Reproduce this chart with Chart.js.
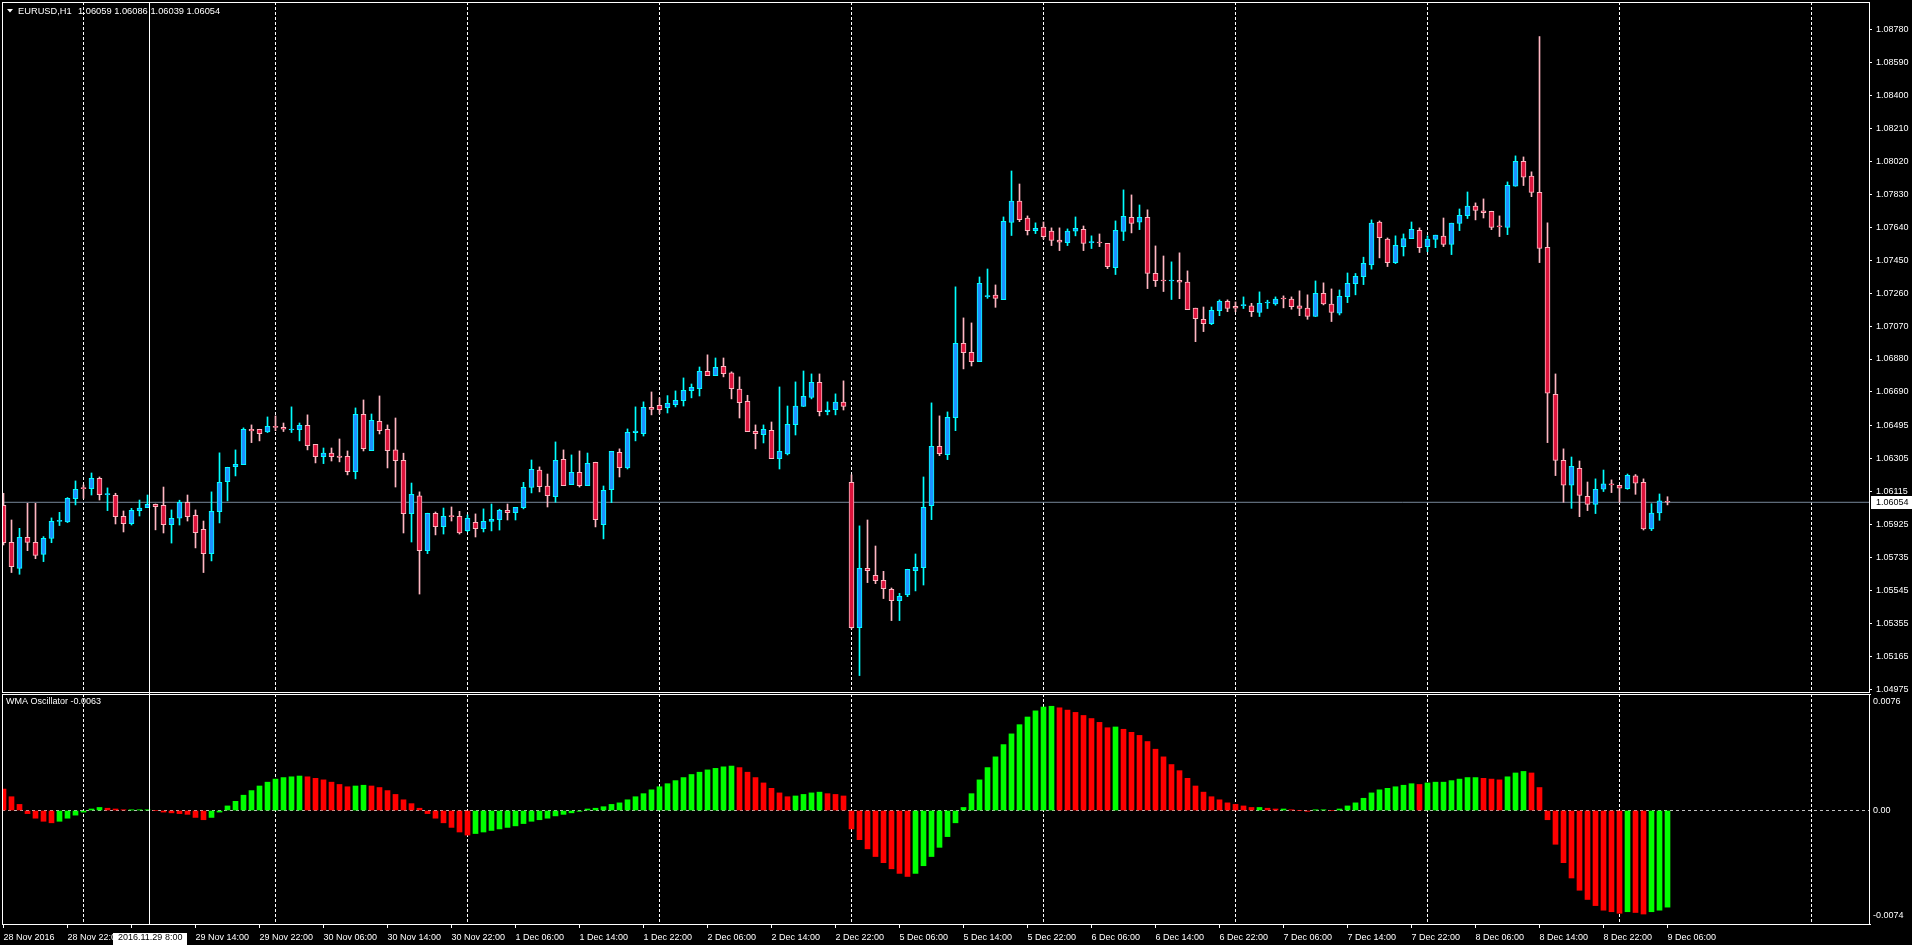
<!DOCTYPE html>
<html><head><meta charset="utf-8">
<script src="https://cdn.jsdelivr.net/npm/chart.js@4.4.0/dist/chart.umd.min.js"></script>
<style>
html,body{margin:0;padding:0;background:#000;width:1912px;height:945px;overflow:hidden}
canvas{position:absolute;left:0}
#main{top:0}
#osc{top:694px}
</style></head><body>
<canvas id="main" width="1912" height="694"></canvas>
<canvas id="osc" width="1912" height="251"></canvas>
<script>
const symbol = 'EURUSD,H1';
const oscName = 'WMA Oscillator';
const bid = 1.06054;
const opens = [
1.06037,1.05823,1.05673,1.05852,1.05823,1.05754,1.05845,1.05943,1.05941,1.06075,
1.06137,1.06133,1.06192,1.06098,1.06094,1.05973,1.05931,1.06006,1.06023,1.06042,
1.06037,1.05925,1.05962,1.06054,1.05979,1.05898,1.05758,1.06000,1.06173,1.06260,
1.06271,1.06475,1.06475,1.06460,1.06492,1.06486,1.06471,1.06473,1.06498,1.06388,
1.06317,1.06337,1.06321,1.06319,1.06231,1.06561,1.06352,1.06521,1.06475,1.06356,
1.06296,1.05989,1.06091,1.05775,1.05991,1.05914,1.05975,1.05973,1.05891,1.05939,
1.05902,1.05943,1.05954,1.06008,1.05994,1.06023,1.06139,1.06239,1.06148,1.06087,
1.06302,1.06156,1.06227,1.06150,1.06285,1.05925,1.06127,1.06342,1.06252,1.06456,
1.06450,1.06602,1.06613,1.06600,1.06617,1.06640,1.06698,1.06709,1.06809,1.06784,
1.06838,1.06800,1.06706,1.06636,1.06463,1.06444,1.06469,1.06306,1.06333,1.06502,
1.06606,1.06658,1.06746,1.06577,1.06588,1.06631,1.06169,1.05331,1.05673,1.05633,
1.05604,1.05552,1.05487,1.05520,1.05660,1.05677,1.06035,1.06377,1.06329,1.06542,
1.06971,1.06919,1.06865,1.07240,1.07248,1.07222,1.07667,1.07790,1.07692,1.07620,
1.07640,1.07617,1.07565,1.07551,1.07617,1.07628,1.07551,1.07553,1.07547,1.07407,
1.07615,1.07697,1.07669,1.07697,1.07374,1.07334,1.07330,1.07334,1.07323,1.07173,
1.07109,1.07084,1.07159,1.07213,1.07184,1.07188,1.07186,1.07148,1.07203,1.07198,
1.07230,1.07225,1.07186,1.07173,1.07125,1.07259,1.07196,1.07144,1.07240,1.07315,
1.07355,1.07423,1.07669,1.07571,1.07436,1.07528,1.07574,1.07622,1.07528,1.07569,
1.07588,1.07540,1.07661,1.07707,1.07761,1.07734,1.07732,1.07645,1.07638,1.07876,
1.08020,1.07934,1.07841,1.07524,1.06677,1.06296,1.06152,1.06250,1.06089,1.06042,
1.06129,1.06158,1.06152,1.06133,1.06206,1.06169,1.05900,1.05992,1.06059];
const highs = [
1.06106,1.05952,1.05904,1.06048,1.06048,1.05856,1.05964,1.05996,1.06081,1.06177,
1.06154,1.06223,1.06200,1.06137,1.06106,1.06004,1.06019,1.06067,1.06096,1.06044,
1.06142,1.06010,1.06066,1.06096,1.06010,1.05946,1.06114,1.06339,1.06256,1.06356,
1.06483,1.06500,1.06475,1.06546,1.06552,1.06511,1.06604,1.06511,1.06558,1.06388,
1.06367,1.06367,1.06419,1.06350,1.06598,1.06644,1.06563,1.06667,1.06500,1.06540,
1.06337,1.06165,1.06114,1.05991,1.05998,1.06021,1.06027,1.06002,1.05981,1.05987,
1.06016,1.06044,1.06014,1.06044,1.06025,1.06169,1.06298,1.06258,1.06217,1.06402,
1.06356,1.06327,1.06350,1.06338,1.06285,1.06148,1.06348,1.06362,1.06477,1.06604,
1.06633,1.06690,1.06656,1.06669,1.06696,1.06771,1.06736,1.06834,1.06904,1.06886,
1.06886,1.06806,1.06777,1.06671,1.06500,1.06500,1.06517,1.06719,1.06609,1.06748,
1.06811,1.06794,1.06794,1.06633,1.06679,1.06754,1.06212,1.05918,1.05952,1.05802,
1.05656,1.05560,1.05529,1.05668,1.05756,1.06200,1.06627,1.06552,1.06575,1.07296,
1.07117,1.07088,1.07353,1.07399,1.07307,1.07699,1.07964,1.07889,1.07705,1.07665,
1.07670,1.07636,1.07636,1.07630,1.07699,1.07647,1.07590,1.07601,1.07547,1.07676,
1.07855,1.07826,1.07768,1.07740,1.07532,1.07474,1.07440,1.07492,1.07388,1.07173,
1.07180,1.07180,1.07221,1.07221,1.07209,1.07238,1.07201,1.07267,1.07219,1.07238,
1.07244,1.07238,1.07273,1.07250,1.07330,1.07319,1.07284,1.07278,1.07376,1.07373,
1.07467,1.07682,1.07676,1.07578,1.07590,1.07601,1.07670,1.07636,1.07590,1.07594,
1.07693,1.07663,1.07745,1.07843,1.07780,1.07803,1.07732,1.07705,1.07901,1.08051,
1.08045,1.07959,1.08739,1.07665,1.06794,1.06362,1.06315,1.06292,1.06171,1.06189,
1.06240,1.06183,1.06152,1.06217,1.06214,1.06189,1.06046,1.06102,1.06086];
const lows = [
1.05808,1.05649,1.05639,1.05775,1.05729,1.05712,1.05821,1.05920,1.05937,1.06039,
1.06077,1.06096,1.06067,1.06006,1.05929,1.05883,1.05923,1.05975,1.06023,1.05895,
1.05877,1.05819,1.05923,1.05946,1.05791,1.05649,1.05716,1.05935,1.06062,1.06206,
1.06271,1.06398,1.06408,1.06456,1.06467,1.06462,1.06456,1.06408,1.06356,1.06281,
1.06277,1.06292,1.06287,1.06212,1.06189,1.06350,1.06352,1.06448,1.06252,1.06142,
1.05877,1.05825,1.05525,1.05758,1.05866,1.05871,1.05946,1.05871,1.05885,1.05854,
1.05883,1.05889,1.05894,1.05952,1.05952,1.06016,1.06108,1.06114,1.06027,1.06054,
1.06150,1.06156,1.06142,1.06150,1.05912,1.05843,1.06052,1.06200,1.06246,1.06408,
1.06436,1.06558,1.06565,1.06569,1.06604,1.06609,1.06656,1.06667,1.06784,1.06784,
1.06777,1.06650,1.06540,1.06461,1.06362,1.06396,1.06306,1.06246,1.06327,1.06442,
1.06606,1.06650,1.06552,1.06558,1.06558,1.06586,1.05324,1.05055,1.05591,1.05585,
1.05499,1.05372,1.05372,1.05510,1.05543,1.05577,1.05954,1.06323,1.06300,1.06467,
1.06823,1.06840,1.06865,1.07230,1.07178,1.07222,1.07592,1.07672,1.07595,1.07603,
1.07572,1.07534,1.07505,1.07534,1.07590,1.07505,1.07517,1.07528,1.07401,1.07367,
1.07563,1.07607,1.07626,1.07286,1.07298,1.07269,1.07223,1.07228,1.07165,1.06980,
1.07038,1.07078,1.07130,1.07153,1.07153,1.07171,1.07125,1.07125,1.07171,1.07190,
1.07175,1.07167,1.07130,1.07109,1.07125,1.07192,1.07096,1.07134,1.07205,1.07250,
1.07309,1.07398,1.07463,1.07413,1.07430,1.07474,1.07574,1.07494,1.07499,1.07522,
1.07528,1.07482,1.07620,1.07690,1.07682,1.07693,1.07626,1.07586,1.07597,1.07876,
1.07880,1.07816,1.07436,1.06398,1.06208,1.06054,1.06019,1.05971,1.06006,1.05989,
1.06116,1.06110,1.06054,1.06129,1.06100,1.05894,1.05891,1.05950,1.06039];
const closes = [
1.05821,1.05683,1.05852,1.05823,1.05748,1.05846,1.05944,1.05950,1.06077,1.06129,
1.06133,1.06192,1.06098,1.06102,1.05971,1.05931,1.06008,1.06021,1.06042,1.06029,
1.05925,1.05962,1.06054,1.05971,1.05879,1.05758,1.06002,1.06169,1.06256,1.06273,
1.06475,1.06465,1.06450,1.06492,1.06485,1.06475,1.06473,1.06498,1.06381,1.06317,
1.06337,1.06317,1.06312,1.06231,1.06561,1.06363,1.06527,1.06467,1.06352,1.06294,
1.05989,1.06100,1.05775,1.05991,1.05914,1.05973,1.05971,1.05877,1.05962,1.05902,
1.05944,1.05956,1.06008,1.05994,1.06025,1.06140,1.06244,1.06144,1.06092,1.06296,
1.06150,1.06227,1.06150,1.06279,1.05954,1.06123,1.06348,1.06254,1.06458,1.06465,
1.06602,1.06590,1.06588,1.06625,1.06642,1.06700,1.06717,1.06809,1.06784,1.06832,
1.06796,1.06709,1.06629,1.06461,1.06450,1.06475,1.06306,1.06348,1.06504,1.06608,
1.06665,1.06746,1.06577,1.06586,1.06631,1.06606,1.05331,1.05673,1.05660,1.05602,
1.05556,1.05487,1.05512,1.05668,1.05679,1.06025,1.06377,1.06335,1.06544,1.06971,
1.06917,1.06865,1.07317,1.07244,1.07230,1.07674,1.07790,1.07684,1.07620,1.07634,
1.07586,1.07563,1.07553,1.07617,1.07634,1.07546,1.07555,1.07549,1.07413,1.07622,
1.07703,1.07661,1.07697,1.07373,1.07332,1.07330,1.07334,1.07323,1.07165,1.07113,
1.07084,1.07161,1.07213,1.07171,1.07173,1.07192,1.07153,1.07201,1.07207,1.07225,
1.07226,1.07182,1.07171,1.07125,1.07259,1.07198,1.07148,1.07242,1.07317,1.07357,
1.07432,1.07663,1.07580,1.07436,1.07536,1.07574,1.07628,1.07522,1.07571,1.07594,
1.07540,1.07663,1.07709,1.07761,1.07736,1.07724,1.07638,1.07642,1.07882,1.08020,
1.07928,1.07840,1.07517,1.06683,1.06296,1.06152,1.06262,1.06094,1.06042,1.06129,
1.06160,1.06154,1.06135,1.06210,1.06164,1.05900,1.05992,1.06062,1.06054];
const wma = [
0.00140,0.00090,0.00040,-0.00020,-0.00050,-0.00070,-0.00080,-0.00070,-0.00050,-0.00030,
-0.00010,0.00010,0.00020,0.00015,0.00010,0.00005,0.00005,0.00005,0.00005,0.00000,
-0.00010,-0.00015,-0.00020,-0.00025,-0.00045,-0.00060,-0.00045,-0.00010,0.00030,0.00060,
0.00100,0.00130,0.00160,0.00185,0.00205,0.00215,0.00220,0.00225,0.00220,0.00210,
0.00200,0.00185,0.00170,0.00155,0.00160,0.00165,0.00160,0.00150,0.00130,0.00105,
0.00070,0.00045,0.00015,-0.00020,-0.00050,-0.00080,-0.00110,-0.00140,-0.00160,-0.00150,
-0.00140,-0.00130,-0.00120,-0.00110,-0.00100,-0.00085,-0.00070,-0.00060,-0.00050,-0.00035,
-0.00025,-0.00015,-0.00005,0.00010,0.00015,0.00025,0.00040,0.00050,0.00070,0.00090,
0.00110,0.00135,0.00155,0.00175,0.00195,0.00215,0.00235,0.00250,0.00265,0.00275,
0.00285,0.00290,0.00280,0.00250,0.00215,0.00180,0.00145,0.00115,0.00090,0.00095,
0.00105,0.00115,0.00120,0.00110,0.00105,0.00095,-0.00120,-0.00190,-0.00250,-0.00300,
-0.00340,-0.00380,-0.00410,-0.00430,-0.00410,-0.00360,-0.00300,-0.00240,-0.00170,-0.00080,
0.00020,0.00110,0.00200,0.00280,0.00350,0.00430,0.00500,0.00560,0.00610,0.00650,
0.00675,0.00680,0.00670,0.00655,0.00640,0.00620,0.00600,0.00575,0.00540,0.00545,
0.00530,0.00510,0.00490,0.00450,0.00400,0.00350,0.00300,0.00260,0.00210,0.00160,
0.00120,0.00090,0.00070,0.00050,0.00040,0.00030,0.00020,0.00020,0.00015,0.00010,
0.00010,0.00005,0.00000,-0.00005,0.00005,0.00005,0.00000,0.00010,0.00030,0.00050,
0.00080,0.00115,0.00135,0.00145,0.00155,0.00165,0.00175,0.00170,0.00180,0.00185,
0.00185,0.00195,0.00205,0.00215,0.00215,0.00210,0.00205,0.00200,0.00220,0.00245,
0.00255,0.00245,0.00150,-0.00060,-0.00220,-0.00340,-0.00440,-0.00520,-0.00580,-0.00620,
-0.00650,-0.00660,-0.00670,-0.00660,-0.00665,-0.00675,-0.00660,-0.00650,-0.00630];
const priceTicks = [1.08780,1.08590,1.08400,1.08210,1.08020,1.07830,1.07640,1.07450,1.07260,1.07070,
1.06880,1.06690,1.06495,1.06305,1.06115,1.05925,1.05735,1.05545,1.05355,1.05165,1.04975];
const oscTicks = [0.0076, 0, -0.0074];
const timeLabels = ["28 Nov 2016","28 Nov 22:00","29 Nov 06:00","29 Nov 14:00","29 Nov 22:00","30 Nov 06:00",
"30 Nov 14:00","30 Nov 22:00","1 Dec 06:00","1 Dec 14:00","1 Dec 22:00","2 Dec 06:00","2 Dec 14:00",
"2 Dec 22:00","5 Dec 06:00","5 Dec 14:00","5 Dec 22:00","6 Dec 06:00","6 Dec 14:00","6 Dec 22:00",
"7 Dec 06:00","7 Dec 14:00","7 Dec 22:00","8 Dec 06:00","8 Dec 14:00","8 Dec 22:00","9 Dec 06:00"];
const labelStep = 8;            // bars between time labels
const dayStarts = [10,34,58,82,106,130,154,178,202,226];  // bar index of each 00:00
const crossIndex = 18.2;
const crossLabel = '2016.11.29 8:00';

const X_MIN = -0.1875, X_MAX = 233.1875;
const Y_MAX = 1.089382, Y_MIN = 1.049603;
const FONT = "'Liberation Sans', Arial, sans-serif";
Chart.defaults.font.family = FONT;
Chart.defaults.font.size = 9;
Chart.defaults.color = '#ffffff';

const idx = opens.map((_, i) => i);
const isBull = i => closes[i] >= opens[i];
const BULL_LINE = '#00ffff', BULL_FILL = '#1e90ff', BEAR_LINE = '#ffb6c1', BEAR_FILL = '#dc143c';
const noPad = s => { s.paddingTop = 0; s.paddingBottom = 0; s.paddingLeft = 0; s.paddingRight = 0; };
const oscRising = i => i === 0 ? wma[1] >= wma[0] : wma[i] >= wma[i - 1];

const mainDeco = {
  id: 'mainDeco',
  afterDatasetsDraw(chart) {
    const {ctx, chartArea: a, scales: {x, y}} = chart;
    ctx.save();
    ctx.setLineDash([]);
    ctx.strokeStyle = '#ffffff'; ctx.lineWidth = 1;
    ctx.strokeRect(a.left + 0.5, a.top + 0.5, a.right - a.left, a.bottom - a.top);
    const cx = Math.round(x.getPixelForValue(crossIndex)) + 0.5;
    ctx.beginPath(); ctx.moveTo(cx, a.top); ctx.lineTo(cx, chart.height); ctx.stroke();
    ctx.fillStyle = '#ffffff';
    ctx.beginPath(); ctx.moveTo(7, 9); ctx.lineTo(13, 9); ctx.lineTo(10, 12.5); ctx.closePath(); ctx.fill();
    ctx.font = '9.3px ' + FONT; ctx.textBaseline = 'middle'; ctx.textAlign = 'left';
    ctx.fillText(symbol, 18, 11);
    const n = opens.length - 1;
    ctx.fillText([opens[n], highs[n], lows[n], closes[n]].map(v => v.toFixed(5)).join(' '), 78, 11);
    const by = y.getPixelForValue(bid);
    ctx.fillRect(1871, Math.round(by) - 6, 41, 13);
    ctx.fillStyle = '#000000'; ctx.font = '9px ' + FONT;
    ctx.fillText(bid.toFixed(5), 1876, Math.round(by) + 0.5);
    ctx.restore();
  }
};

new Chart(document.getElementById('main'), {
  type: 'bar',
  data: {
    datasets: [
      {type: 'line', data: [{x: X_MIN, y: bid}, {x: X_MAX, y: bid}], borderColor: '#778899', borderWidth: 1,
       pointRadius: 0, order: 3},
      {data: idx.map(i => ({x: i, y: [lows[i], highs[i]]})),
       backgroundColor: c => isBull(c.dataIndex) ? BULL_LINE : BEAR_LINE,
       borderWidth: 0, barThickness: 1, grouped: false, minBarLength: 1, order: 2},
      {data: idx.map(i => ({x: i, y: [opens[i], closes[i]]})),
       backgroundColor: c => isBull(c.dataIndex) ? BULL_FILL : BEAR_FILL,
       borderColor: c => isBull(c.dataIndex) ? BULL_LINE : BEAR_LINE,
       borderWidth: 1, borderSkipped: false, barThickness: 5, minBarLength: 1, grouped: false, order: 1}
    ]
  },
  options: {
    responsive: false, animation: false, devicePixelRatio: 1, events: [],
    layout: {padding: {left: 2, top: 2, right: 0, bottom: 2}},
    plugins: {legend: {display: false}, tooltip: {enabled: false}},
    scales: {
      x: {type: 'linear', min: X_MIN, max: X_MAX, offset: false,
          afterFit: s => { s.height = 0; noPad(s); },
          afterBuildTicks: s => { s.ticks = dayStarts.map(v => ({value: v})); },
          ticks: {display: false},
          grid: {offset: false, color: '#ffffff', lineWidth: 1, drawTicks: false},
          border: {display: false, dash: [3, 2]}},
      y: {type: 'linear', position: 'right', min: Y_MIN, max: Y_MAX,
          afterFit: s => { s.width = 43; noPad(s); },
          afterBuildTicks: s => { s.ticks = priceTicks.map(v => ({value: v})); },
          ticks: {color: '#ffffff', padding: 4, callback: v => Number(v).toFixed(5)},
          grid: {drawOnChartArea: false, drawTicks: true, tickLength: 3, tickColor: '#ffffff'},
          border: {display: false}}
    }
  },
  plugins: [mainDeco]
});

const oscDeco = {
  id: 'oscDeco',
  afterDatasetsDraw(chart) {
    const {ctx, chartArea: a, scales: {x}} = chart;
    ctx.save();
    ctx.setLineDash([]);
    ctx.strokeStyle = '#ffffff'; ctx.lineWidth = 1;
    ctx.strokeRect(a.left + 0.5, a.top + 0.5, a.right - a.left, a.bottom - a.top);
    const cx = Math.round(x.getPixelForValue(crossIndex)) + 0.5;
    ctx.beginPath(); ctx.moveTo(cx, 0); ctx.lineTo(cx, a.bottom); ctx.stroke();
    ctx.fillStyle = '#ffffff'; ctx.font = '9px ' + FONT; ctx.textBaseline = 'middle'; ctx.textAlign = 'left';
    ctx.fillText(oscName + ' ' + wma[wma.length - 1].toFixed(4), 6, 8);
    const tw = ctx.measureText(crossLabel).width;
    const bw = Math.round(tw + 10);
    const bx = Math.round(cx - bw / 2);
    ctx.fillRect(bx, a.bottom + 9, bw, chart.height - a.bottom - 9);
    ctx.fillStyle = '#000000';
    ctx.fillText(crossLabel, bx + 5, a.bottom + 14);
    ctx.restore();
  }
};

new Chart(document.getElementById('osc'), {
  type: 'bar',
  data: {
    datasets: [{
      data: idx.map(i => ({x: i, y: wma[i]})),
      backgroundColor: c => oscRising(c.dataIndex) ? '#00ff00' : '#ff0000',
      borderWidth: 0, barThickness: 5, grouped: false
    }]
  },
  options: {
    responsive: false, animation: false, devicePixelRatio: 1, events: [],
    layout: {padding: {left: 2, top: 0, right: 0, bottom: 0}},
    plugins: {legend: {display: false}, tooltip: {enabled: false}},
    scales: {
      x: {type: 'linear', min: X_MIN, max: X_MAX, offset: false,
          afterFit: s => { s.height = 21; noPad(s); },
          afterBuildTicks: s => {
            const t = timeLabels.map((_, j) => j * labelStep).concat(dayStarts);
            s.ticks = t.sort((p, q) => p - q).map(v => ({value: v}));
          },
          ticks: {color: '#ffffff', align: 'start', maxRotation: 0, minRotation: 0, autoSkip: false, padding: 4,
                  callback: v => (v % labelStep === 0 && v / labelStep < timeLabels.length) ? timeLabels[v / labelStep] : ''},
          grid: {offset: false, drawTicks: true, tickLength: 4, lineWidth: 1,
                 color: c => (c.tick && dayStarts.includes(c.tick.value)) ? '#ffffff' : 'rgba(0,0,0,0)',
                 tickColor: c => (c.tick && c.tick.value % labelStep === 0) ? '#ffffff' : 'rgba(0,0,0,0)'},
          border: {display: false, dash: [3, 2]}},
      y: {type: 'linear', position: 'right', min: oscTicks[2], max: oscTicks[0],
          afterFit: s => { s.width = 43; noPad(s); },
          afterBuildTicks: s => { s.ticks = oscTicks.map(v => ({value: v})); },
          ticks: {color: '#ffffff', padding: 2, font: {size: 9, lineHeight: 16 / 9},
                  callback: v => v === 0 ? '0.00' : (v > 0 ? ['', v.toFixed(4)] : [v.toFixed(4), ''])},
          grid: {drawTicks: true, tickLength: 2, lineWidth: 1,
                 color: c => (c.tick && c.tick.value === 0) ? '#c0c0c0' : 'rgba(0,0,0,0)',
                 tickColor: c => (c.tick && c.tick.value !== 0) ? '#ffffff' : 'rgba(0,0,0,0)'},
          border: {display: false, dash: [3, 3]}}
    }
  },
  plugins: [oscDeco]
});
</script>
</body></html>
